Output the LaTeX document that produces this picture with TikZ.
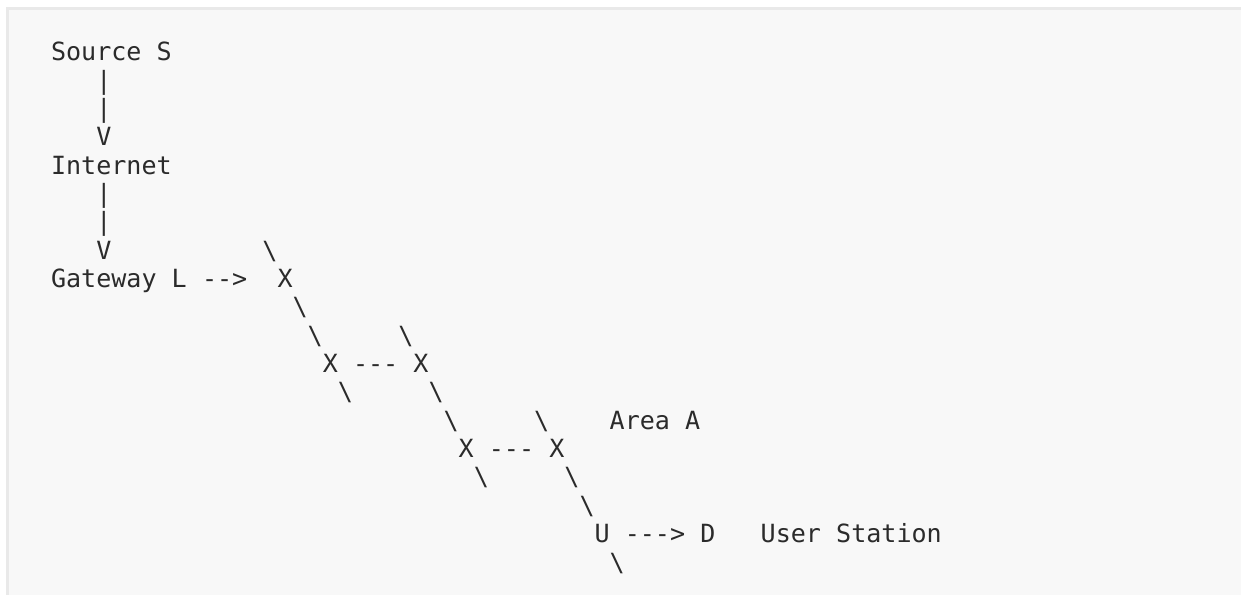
\documentclass[tikz,border=0pt]{standalone}
\usepackage{fontspec}
\setmonofont{DejaVu Sans Mono}
\definecolor{codebg}{HTML}{F8F8F8}
\definecolor{codeline}{HTML}{E9E9E9}
\definecolor{codetext}{HTML}{2B2B2B}
\newcommand{\bs}{\textbackslash}
\tikzset{
  ascii/.style={font=\ttfamily\fontsize{18.8}{21}\selectfont, text=codetext,
    anchor=base west, inner sep=0pt, outer sep=0pt}
}
\begin{document}
\begin{tikzpicture}[x=0.75pt,y=-0.75pt]
	\useasboundingbox (0,0) rectangle (1241,594);
	\fill [codebg] (7.5,8.5) rectangle (1260,610);
	\draw [codeline,line width=1.9pt] (7.5,610) -- (7.5,8.5) -- (1260,8.5);
	\begin{scope}[shift={(51,60.7)},x=11.325pt,y=-21.2625pt]
	   % source down to the gateway
	   \node [ascii] (src)   at (0,0)  {Source S};
	   \node [ascii] (bar1)  at (3,1)  {|};
	   \node [ascii] (bar2)  at (3,2)  {|};
	   \node [ascii] (arr1)  at (3,3)  {V};
	   \node [ascii] (inet)  at (0,4)  {Internet};
	   \node [ascii] (bar3)  at (3,5)  {|};
	   \node [ascii] (bar4)  at (3,6)  {|};
	   \node [ascii] (arr2)  at (3,7)  {V};
	   \node [ascii] (bs1)   at (14,7) {\bs};
	   \node [ascii] (gw)    at (0,8)  {Gateway L};
	   \node [ascii] (arr3)  at (10,8) {-{}->};
	   \node [ascii] (x1)    at (15,8) {X};
	   % chain of X nodes
	   \node [ascii] (bs2)   at (16,9)  {\bs};
	   \node [ascii] (bs3)   at (17,10) {\bs};
	   \node [ascii] (bs4)   at (23,10) {\bs};
	   \node [ascii] (x2)    at (18,11) {X};
	   \node [ascii] (dash1) at (20,11) {-{}-{}-};
	   \node [ascii] (x3)    at (24,11) {X};
	   \node [ascii] (bs5)   at (19,12) {\bs};
	   \node [ascii] (bs6)   at (25,12) {\bs};
	   \node [ascii] (bs7)   at (26,13) {\bs};
	   \node [ascii] (bs8)   at (32,13) {\bs};
	   \node [ascii] (area)  at (37,13) {Area A};
	   \node [ascii] (x4)    at (27,14) {X};
	   \node [ascii] (dash2) at (29,14) {-{}-{}-};
	   \node [ascii] (x5)    at (33,14) {X};
	   \node [ascii] (bs9)   at (28,15) {\bs};
	   \node [ascii] (bs10)  at (34,15) {\bs};
	   \node [ascii] (bs11)  at (35,16) {\bs};
	   % user station
	   \node [ascii] (u)     at (36,17) {U};
	   \node [ascii] (arr4)  at (38,17) {-{}-{}->};
	   \node [ascii] (d)     at (43,17) {D};
	   \node [ascii] (user)  at (47,17) {User Station};
	   \node [ascii] (bs12)  at (37,18) {\bs};
	\end{scope}
\end{tikzpicture}
\end{document}
